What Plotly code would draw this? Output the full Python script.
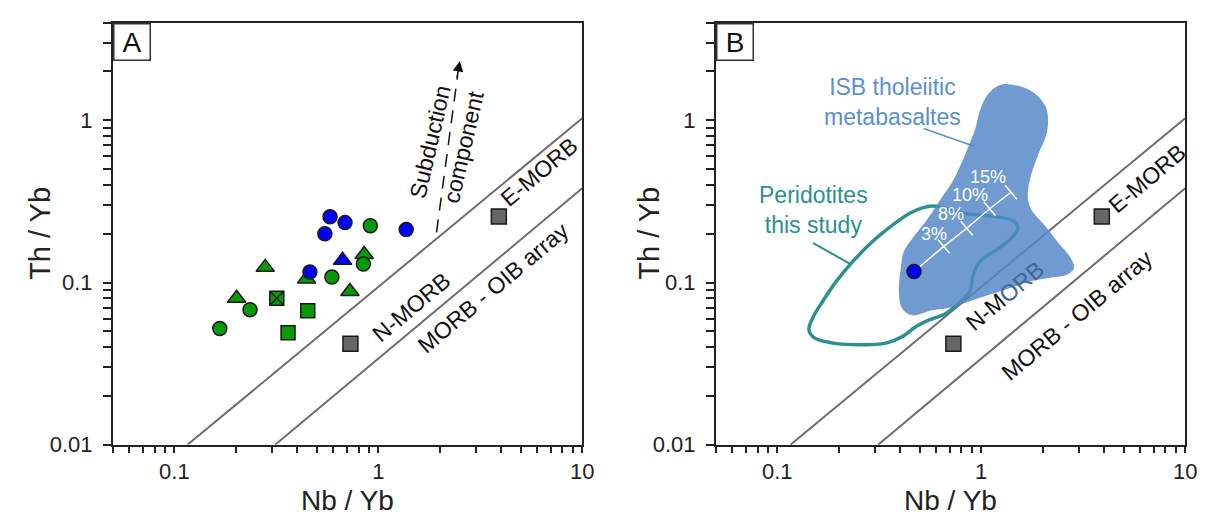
import plotly.graph_objects as go
import math

# ---------------- data ----------------
# Panel A samples (Nb/Yb, Th/Yb)
green_circle_x = [0.167, 0.235, 0.592, 0.845, 0.914]
green_circle_y = [0.052, 0.068, 0.108, 0.130, 0.224]
green_tri_x = [0.202, 0.279, 0.445, 0.726, 0.853]
green_tri_y = [0.080, 0.124, 0.105, 0.088, 0.149]
green_sq_x = [0.361, 0.451]
green_sq_y = [0.049, 0.067]
green_sqx_x = [0.318]
green_sqx_y = [0.080]
blue_circle_x = [0.462, 0.547, 0.580, 0.687, 1.37]
blue_circle_y = [0.116, 0.200, 0.254, 0.234, 0.212]
blue_tri_x = [0.668]
blue_tri_y = [0.137]

# Reference compositions
ref_x = [0.73, 3.9]      # N-MORB, E-MORB
ref_y = [0.042, 0.255]

# MORB-OIB array boundaries
upper_x = [0.116, 10.0]
upper_y = [0.01, 1.03]
lower_x = [0.312, 10.0]
lower_y = [0.01, 0.381]

# Subduction component arrow
sub_x = [1.93, 2.45]
sub_y = [0.204, 1.90]

# Panel B: ISB tholeiitic metabasaltes field
isb_x = [1.35, 1.75, 2.07, 2.11, 1.89, 1.75, 1.69, 1.75, 2.04, 2.36, 2.74, 2.85, 2.64,
         2.19, 1.75, 1.40, 1.12, 0.90, 0.718, 0.574, 0.459, 0.410, 0.395, 0.403, 0.418,
         0.459, 0.533, 0.618, 0.718, 0.802, 0.865, 0.931, 0.986, 1.08, 1.21]
isb_y = [1.67, 1.52, 1.21, 0.87, 0.60, 0.454, 0.343, 0.285, 0.226, 0.179, 0.142, 0.123,
         0.112, 0.107, 0.102, 0.093, 0.085, 0.0775, 0.0705, 0.0674, 0.0628, 0.069, 0.085,
         0.123, 0.156, 0.187, 0.237, 0.313, 0.413, 0.547, 0.69, 0.87, 1.15, 1.45, 1.63]

# Peridotites (this study) field
per_x = [0.574, 0.834, 1.21, 1.46, 1.51, 1.40, 1.16, 0.986, 0.914, 0.881, 0.802, 0.667,
         0.553, 0.477, 0.410, 0.341, 0.253, 0.188, 0.153, 0.143, 0.150, 0.168, 0.195,
         0.235, 0.293, 0.367, 0.459]
per_y = [0.296, 0.266, 0.254, 0.237, 0.216, 0.187, 0.156, 0.135, 0.112, 0.089, 0.0775,
         0.0643, 0.0586, 0.0533, 0.0464, 0.0423, 0.0413, 0.0423, 0.0454, 0.051, 0.0614,
         0.0775, 0.102, 0.135, 0.179, 0.226, 0.272]

# Leader lines
isb_lead_x = [0.522, 0.931]
isb_lead_y = [0.891, 0.69]
per_lead_x = [0.150, 0.231]
per_lead_y = [0.175, 0.129]

# Melting / mixing curve from the starting sample
mix_x = [0.468, 0.655, 0.849, 1.10, 1.40]
mix_y = [0.117, 0.167, 0.216, 0.285, 0.36]
mix_labels = ["3%", "8%", "10%", "15%"]

# tick labels
x_major = [0.1, 1, 10]
x_major_text = ["0.1", "1", "10"]
y_major = [0.01, 0.1, 1]
y_major_text = ["0.01", "0.1", "1"]

# ---------------- styling ----------------
FONT = "Liberation Sans, Arial, sans-serif"
GREEN = "#069a06"
BLUE = "#0000ff"
GRAY = "#6e6e6e"
TEAL = "#2a9090"
EDGE = "#1a1a1a"

fig = go.Figure()

def ticks(lo_exp, hi_exp, stop):
    vals = []
    for e in range(lo_exp, hi_exp + 1):
        for m in range(1, 10):
            v = m * 10 ** e
            if v <= stop * 1.0001:
                vals.append(v)
    return vals

def lab(v, majors, texts):
    for m, t in zip(majors, texts):
        if abs(v - m) < 1e-9 * max(1, m):
            return t
    return ""

xt = [v for v in ticks(-2, 1, 10) if v >= 0.05 - 1e-9]
yt = ticks(-2, 0, 4)
xt_text = [lab(v, x_major, x_major_text) for v in xt]
yt_text = [lab(v, y_major, y_major_text) for v in yt]

def line(x, y, xa, ya, color, width, dash=None, opacity=1):
    fig.add_trace(go.Scatter(x=x, y=y, mode="lines", xaxis=xa, yaxis=ya,
                             line=dict(color=color, width=width, dash=dash),
                             opacity=opacity, hoverinfo="skip", showlegend=False))

def pts(x, y, xa, ya, symbol, color, size):
    fig.add_trace(go.Scatter(x=x, y=y, mode="markers", xaxis=xa, yaxis=ya,
                             marker=dict(symbol=symbol, color=color, size=size,
                                         line=dict(color=EDGE, width=1.5)),
                             showlegend=False))

# ----- Panel A -----
line(upper_x, upper_y, "x", "y", GRAY, 2)
line(lower_x, lower_y, "x", "y", GRAY, 2)
line(sub_x, sub_y, "x", "y", "#111111", 1.5, dash="13px,9px")
pts(ref_x, ref_y, "x", "y", "square", "#666666", 15)
pts(green_tri_x, green_tri_y, "x", "y", "triangle-up", GREEN, 16)
pts(green_sq_x, green_sq_y, "x", "y", "square", GREEN, 14)
pts(green_sqx_x, green_sqx_y, "x", "y", "square-x", GREEN, 14)
pts(green_circle_x, green_circle_y, "x", "y", "circle", GREEN, 14)
pts(blue_circle_x, blue_circle_y, "x", "y", "circle", BLUE, 14)
pts(blue_tri_x, blue_tri_y, "x", "y", "triangle-up", BLUE, 16)

# ----- Panel B -----
line(upper_x, upper_y, "x2", "y2", GRAY, 2)
line(lower_x, lower_y, "x2", "y2", GRAY, 2)
pts(ref_x, ref_y, "x2", "y2", "square", "#666666", 15)
fig.add_trace(go.Scatter(x=per_x + per_x[:1], y=per_y + per_y[:1], mode="lines",
                         xaxis="x2", yaxis="y2",
                         line=dict(color=TEAL, width=3.5, shape="spline", smoothing=1),
                         hoverinfo="skip", showlegend=False))
line(per_lead_x, per_lead_y, "x2", "y2", TEAL, 2)
fig.add_trace(go.Scatter(x=isb_x + isb_x[:1], y=isb_y + isb_y[:1], mode="lines",
                         xaxis="x2", yaxis="y2", fill="toself",
                         fillcolor="rgba(84,136,200,0.84)",
                         line=dict(color="rgba(84,136,200,0)", width=0, shape="spline", smoothing=1),
                         hoverinfo="skip", showlegend=False))
line(isb_lead_x, isb_lead_y, "x2", "y2", "#5b8fd0", 1.5)
line(mix_x, mix_y, "x2", "y2", "white", 1.5)
fig.add_trace(go.Scatter(x=mix_x[1:], y=mix_y[1:], mode="markers", xaxis="x2", yaxis="y2",
                         marker=dict(symbol="line-ns", size=13, angle=-40,
                                     line=dict(color="white", width=1.5)),
                         hoverinfo="skip", showlegend=False))
pts(mix_x[:1], mix_y[:1], "x2", "y2", "circle", BLUE, 14)

# ---------------- axes ----------------
axis_common = dict(type="log", showgrid=False, zeroline=False, showline=True,
                   linecolor="#222222", linewidth=2, mirror=True, ticks="outside",
                   tickcolor="#222222", tickwidth=1.5,
                   tickfont=dict(family=FONT, size=22, color="#222222"))
Y_DOM = [70 / 518, 503 / 518]
fig.update_layout(
    width=1208, height=518, margin=dict(l=0, r=0, t=0, b=0),
    paper_bgcolor="white", plot_bgcolor="white", showlegend=False,
    xaxis=dict(axis_common, domain=[106 / 1208, 580 / 1208], range=[math.log10(0.05), 1],
               tickvals=xt, ticktext=xt_text, ticklen=6, anchor="y", ticklabelstandoff=0),
    yaxis=dict(axis_common, domain=Y_DOM, range=[-2, math.log10(4)],
               tickvals=yt, ticktext=yt_text, ticklen=8, anchor="x", ticklabelstandoff=6),
    xaxis2=dict(axis_common, domain=[715 / 1208, 1189 / 1208], range=[math.log10(0.05), 1],
                tickvals=xt, ticktext=xt_text, ticklen=6, anchor="y2", ticklabelstandoff=0),
    yaxis2=dict(axis_common, domain=Y_DOM, range=[-2, math.log10(4)],
                tickvals=yt, ticktext=yt_text, ticklen=8, anchor="x2", ticklabelstandoff=6),
)

ann = []
def text(t, xr, yr, x, y, size=23, color="#111111", angle=0, **kw):
    ann.append(dict(text=t, xref=xr, yref=yr, x=x, y=y, showarrow=False, textangle=angle,
                    xanchor="center", yanchor="middle",
                    font=dict(family=FONT, size=size, color=color), **kw))

# axis titles
for xc, yc in [(343, 33), (952, 648)]:
    text("Nb / Yb", "paper", "paper", xc / 1208, (518 - 505) / 518, size=28, color="#222222")
    text("Th / Yb", "paper", "paper", yc / 1208, (518 - 231) / 518, size=29, color="#222222", angle=-90)

# panel letters
for ax, L in [("x", "A"), ("x2", "B")]:
    ya = "y" if ax == "x" else "y2"
    ann.append(dict(text=L, xref=ax + " domain", yref=ya + " domain", x=0, y=1,
                    xanchor="left", yanchor="top", showarrow=False, width=35, height=35,
                    bordercolor="#333333", borderwidth=1.5, borderpad=0, bgcolor="white",
                    font=dict(family=FONT, size=28, color="#111111")))

# Panel A labels
text("E-MORB", "x", "y", 0.788, -0.317, angle=-40)
text("N-MORB", "x", "y", 0.164, -1.153, angle=-40)
text("MORB - OIB array", "x", "y", 0.562, -1.032, angle=-40)
text("Subduction", "x", "y", 0.252, -0.131, angle=-77)
text("component", "x", "y", 0.419, -0.167, angle=-77)
ann.append(dict(x=math.log10(2.51), y=math.log10(2.32), xref="x", yref="y", ax=-3, ay=18,
                axref="pixel", ayref="pixel", text="", showarrow=True, arrowhead=2,
                arrowsize=1.4, arrowwidth=1.5, arrowcolor="#111111"))

# Panel B labels
text("E-MORB", "x2", "y2", 0.811, -0.359, angle=-40)
text("N-M<span style='color:#3f6595'>ORB</span>", "x2", "y2", 0.115, -1.081, angle=-40)
text("MORB - OIB array", "x2", "y2", 0.471, -1.201, angle=-40)
text("ISB tholeiitic<br>metabasaltes", "x2", "y2", -0.435, 0.111, color="#5b8fd0")
text("Peridotites<br>this study", "x2", "y2", -0.824, -0.550, color=TEAL)
for t, xx, yy in zip(mix_labels, [-0.233, -0.147, -0.055, 0.034], [-0.700, -0.580, -0.460, -0.349]):
    text(t, "x2", "y2", xx, yy, size=18, color="white")

fig.update_layout(annotations=ann)
fig.write_html("out.html")
